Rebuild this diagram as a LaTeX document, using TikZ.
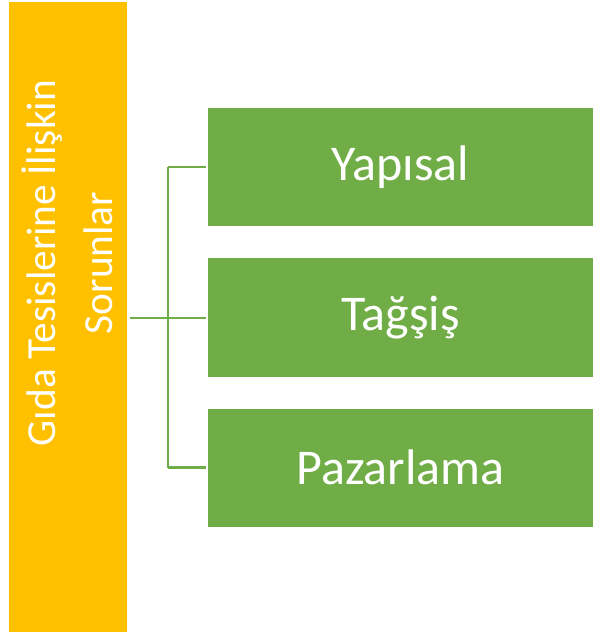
\documentclass[tikz,border=0pt]{standalone}
\usepackage{fontspec}
\setmainfont{Carlito}
\usepackage{tikz}
\usetikzlibrary{positioning,calc}

\definecolor{headorange}{HTML}{FFC000}
\definecolor{itemgreen}{HTML}{70AD47}

\tikzset{
    headbox/.style={fill=headorange, draw=none, minimum width=118*0.75pt, minimum height=630*0.75pt, inner sep=0pt},
    itembox/.style={fill=itemgreen, draw=none, minimum width=385*0.75pt, minimum height=118*0.75pt, inner sep=0pt,
        text=white, font=\fontsize{37.5}{45}\selectfont},
    link/.style={draw=itemgreen, line width=1.6pt}
}

\begin{document}
\begin{tikzpicture}[x=0.75pt, y=-0.75pt]
    \useasboundingbox (0,0) rectangle (593,634);

    % Head box
    \node[headbox] (head) at (68,317) {};
    \node[rotate=90, text=white, align=center, font=\fontsize{31}{43}\selectfont] (headtext) at (67,263)
        {Gıda Tesislerine İlişkin\\Sorunlar};

    % Items
    \node[itembox] (yapisal) at (400.5,167) {Yapısal};
    \node[itembox] (tagsis) at (400.5,317.5) {Tağşiş};
    \node[itembox] (pazarlama) at (400.5,467.5) {Pazarlama};

    % Connectors
    \coordinate (fork) at (168,318);
    \draw[link] ([xshift=2.25pt]head.east |- fork) -- (fork);
    \draw[link] (fork |- yapisal) -- (fork |- pazarlama);
    \draw[link] (fork |- yapisal) -- ([xshift=-1.5pt]yapisal.west);
    \draw[link] (fork) -- ([xshift=-1.5pt]tagsis.west |- fork);
    \draw[link] (fork |- pazarlama) -- ([xshift=-1.5pt]pazarlama.west);
\end{tikzpicture}
\end{document}
